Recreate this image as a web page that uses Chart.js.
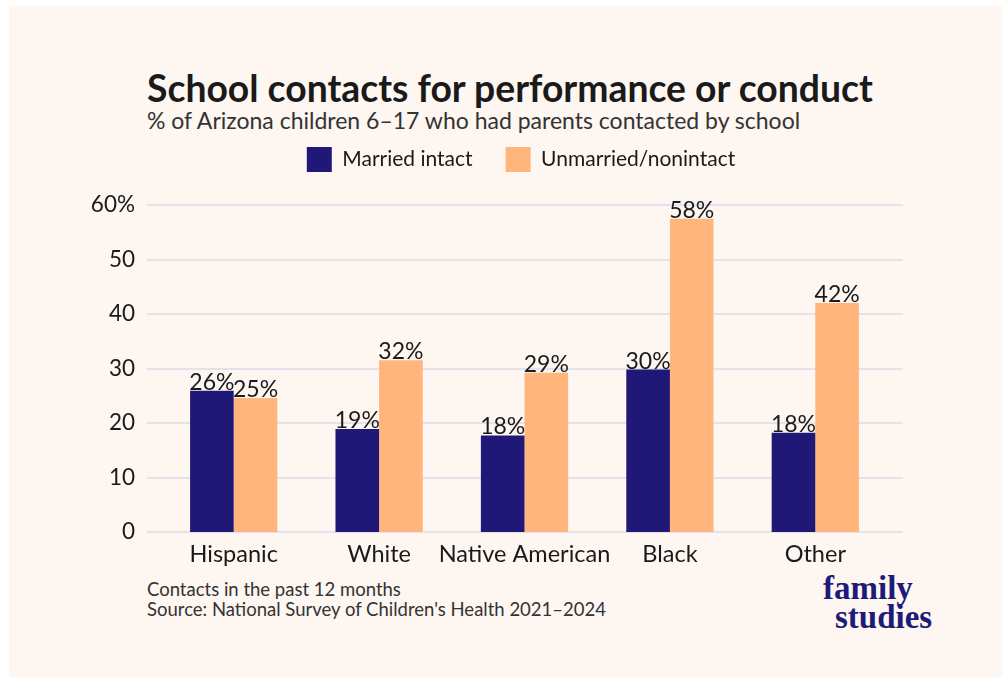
<!DOCTYPE html>
<html>
<head>
<meta charset="utf-8">
<script src="https://cdn.jsdelivr.net/npm/chart.js@4.4.1/dist/chart.umd.min.js"></script>
<style>
  body { margin: 0; background: #fff; font-family: Lato, sans-serif; }
  #card { position: absolute; left: 9px; top: 6px; width: 993px; height: 671px; background: #fdf6f1; }
  .txt { position: absolute; white-space: nowrap; color: #1a1a1a; }
  #title { left: 138px; top: 59px; font-size: 37.3px; font-weight: bold; }
  #subtitle { left: 138px; top: 100px; font-size: 23px; color: #333; }
  #foot { left: 138px; top: 573px; font-size: 18.5px; line-height: 20px; color: #333; }
  .logo { position: absolute; font-family: "Liberation Serif", serif; font-weight: bold; color: #1e1a78; font-size: 33px; line-height: 32px; }
  #wrap { position: absolute; left: 51px; top: 108px; width: 922px; height: 476px; }
</style>
</head>
<body>
<div id="card">
  <div id="title" class="txt">School contacts for performance or conduct</div>
  <div id="subtitle" class="txt">% of Arizona children 6–17 who had parents contacted by school</div>
  <div id="foot" class="txt">Contacts in the past 12 months<br>Source: National Survey of Children's Health 2021–2024</div>
  <div class="logo" style="left:814px; top:566px;">family</div>
  <div class="logo" style="left:826px; top:595px;">studies</div>
  <div id="wrap"><canvas id="chart"></canvas></div>
</div>
<script>
// data
const groups = ["Hispanic", "White", "Native American", "Black", "Other"];
const married = [25.9, 18.9, 17.7, 29.8, 18.2];
const unmarried = [24.6, 31.5, 29.2, 57.5, 42.0];
const seriesNames = ["Married intact", "Unmarried/nonintact"];
const yTicks = [0, 10, 20, 30, 40, 50, 60];

const navy = "#1f1877";
const peach = "#ffb57b";
const gridColor = "#e4e2ea";

// push the plot down a bit under the legend
const legendGap = {
  id: 'legendGap',
  beforeInit(chart) {
    const fit = chart.legend.fit;
    chart.legend.fit = function () {
      fit.bind(chart.legend)();
      this.height += 23;
    };
  }
};

// gridlines run wider than the bars
const wideGrid = {
  id: 'wideGrid',
  beforeDatasetsDraw(chart) {
    const ctx = chart.ctx;
    const y = chart.scales.y;
    const left = chart.chartArea.left - 14;
    const right = chart.chartArea.right + 15;
    ctx.save();
    ctx.strokeStyle = gridColor;
    ctx.lineWidth = 2;
    yTicks.forEach(v => {
      const py = Math.round(y.getPixelForValue(v));
      ctx.beginPath();
      ctx.moveTo(left, py);
      ctx.lineTo(right, py);
      ctx.stroke();
    });
    ctx.restore();
  }
};

// value labels on top of each bar
const barLabels = {
  id: 'barLabels',
  afterDatasetsDraw(chart) {
    const ctx = chart.ctx;
    ctx.save();
    ctx.font = '23px Lato';
    ctx.fillStyle = '#1a1a1a';
    ctx.textAlign = 'center';
    ctx.textBaseline = 'bottom';
    chart.data.datasets.forEach((ds, i) => {
      chart.getDatasetMeta(i).data.forEach((bar, j) => {
        ctx.fillText(Math.round(ds.data[j]) + '%', bar.x, bar.y + 3);
      });
    });
    ctx.restore();
  }
};

new Chart(document.getElementById('chart'), {
  type: 'bar',
  data: {
    labels: groups,
    datasets: [
      { label: seriesNames[0], data: married, backgroundColor: navy },
      { label: seriesNames[1], data: unmarried, backgroundColor: peach }
    ]
  },
  options: {
    responsive: true,
    maintainAspectRatio: false,
    animation: false,
    categoryPercentage: 0.6,
    barPercentage: 1.0,
    plugins: {
      legend: {
        position: 'top',
        labels: {
          boxWidth: 25,
          boxHeight: 25,
          padding: 33,
          color: '#1a1a1a',
          font: { family: 'Lato', size: 21 }
        }
      },
      tooltip: { enabled: false }
    },
    scales: {
      x: {
        grid: { display: false },
        border: { display: false },
        ticks: {
          color: '#1a1a1a',
          font: { family: 'Lato', size: 23.5 },
          padding: 0,
          maxRotation: 0,
          minRotation: 0,
          autoSkip: false
        },
        afterFit(scale) { scale.height = 58; }
      },
      y: {
        min: 0,
        max: 60,
        grid: { display: false },
        border: { display: false },
        afterBuildTicks(scale) { scale.ticks = yTicks.map(v => ({ value: v })); },
        ticks: {
          color: '#1a1a1a',
          font: { family: 'Lato', size: 22.5 },
          padding: 18,
          callback: v => v === 60 ? '60%' : v
        },
        afterFit(scale) { scale.width = 101; }
      },
      // empty right margin so the legend centres over the whole figure
      pad: {
        position: 'right',
        min: 0,
        max: 60,
        grid: { display: false },
        border: { display: false },
        ticks: { display: false },
        afterFit(scale) { scale.width = 94; }
      }
    }
  },
  plugins: [legendGap, wideGrid, barLabels]
});
</script>
</body>
</html>
